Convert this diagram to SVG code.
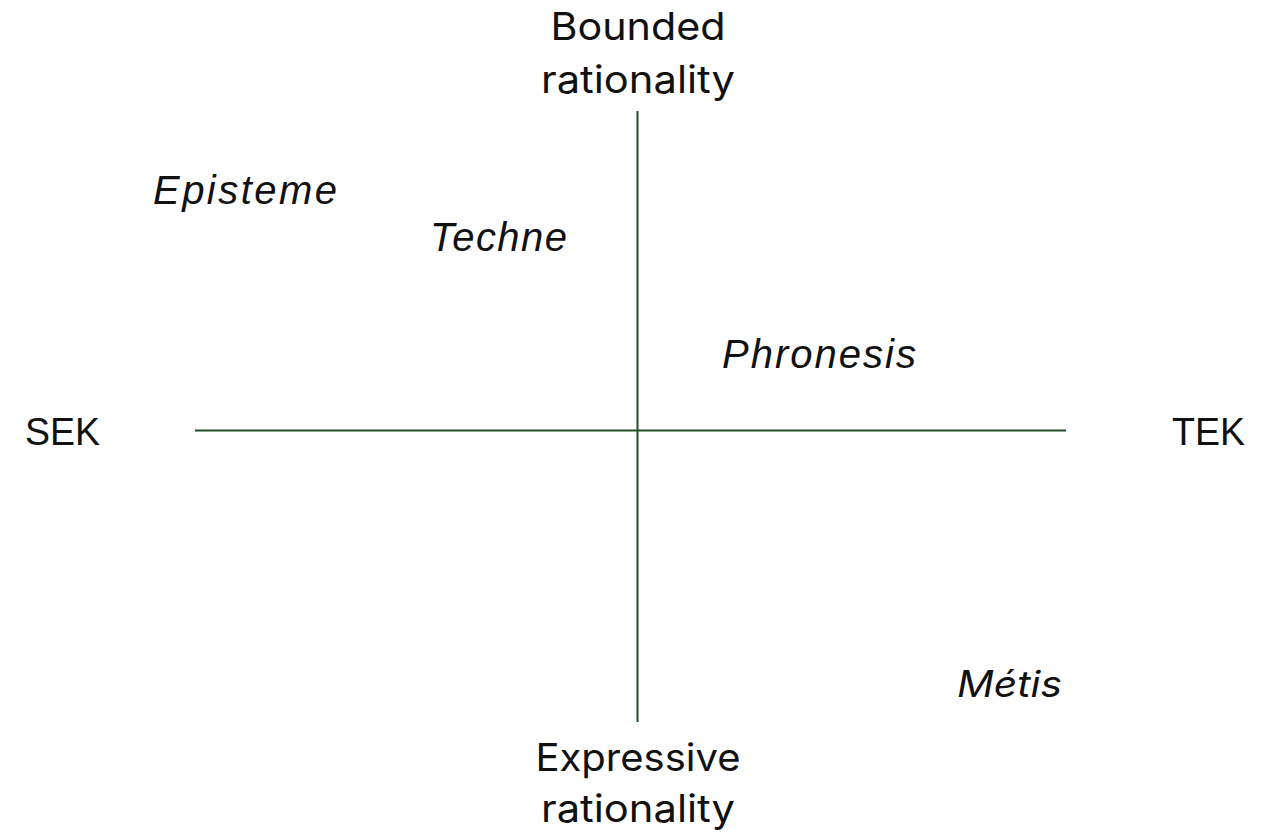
<svg xmlns="http://www.w3.org/2000/svg" width="1266" height="832" viewBox="0 0 1266 832">
  <style>
    .axis { stroke: #1e4f27; stroke-width: 2; fill: none; }
    .pole { font-family: "Inter", "Open Sans", "Liberation Sans", sans-serif; font-size: 38px; fill: #111; text-anchor: middle; }
    .side { font-family: "Liberation Sans", Arial, sans-serif; font-size: 38px; fill: #111; }
    .term { font-family: "Liberation Sans", Arial, sans-serif; font-size: 40px; font-style: italic; fill: #111; }
    .termb { font-family: "Inter", "Open Sans", "Liberation Sans", sans-serif; font-size: 37px; font-style: italic; fill: #111; }
  </style>
  <rect width="1266" height="832" fill="#ffffff"/>

  <g id="axes">
    <line class="axis" x1="637.5" y1="111" x2="637.5" y2="722"/>
    <line class="axis" x1="195" y1="430.5" x2="1066" y2="430.5"/>
  </g>

  <g id="pole-top">
    <text class="pole" x="638" y="40" textLength="175" lengthAdjust="spacingAndGlyphs">Bounded</text>
    <text class="pole" x="638" y="93" textLength="194" lengthAdjust="spacingAndGlyphs">rationality</text>
  </g>
  <g id="pole-bottom">
    <text class="pole" x="638" y="771" textLength="205" lengthAdjust="spacingAndGlyphs">Expressive</text>
    <text class="pole" x="638" y="822" textLength="194" lengthAdjust="spacingAndGlyphs">rationality</text>
  </g>
  <g id="pole-left">
    <text class="side" x="25" y="445" textLength="75" lengthAdjust="spacingAndGlyphs">SEK</text>
  </g>
  <g id="pole-right">
    <text class="side" x="1172" y="445" textLength="73" lengthAdjust="spacingAndGlyphs">TEK</text>
  </g>

  <g id="episteme">
    <text class="term" x="153" y="204" textLength="184" lengthAdjust="spacing">Episteme</text>
  </g>
  <g id="techne">
    <text class="term" x="430" y="251" textLength="137" lengthAdjust="spacing">Techne</text>
  </g>
  <g id="phronesis">
    <text class="term" x="722" y="368" textLength="194" lengthAdjust="spacing">Phronesis</text>
  </g>
  <g id="metis">
    <text class="termb" x="957" y="697" textLength="105" lengthAdjust="spacingAndGlyphs">Métis</text>
  </g>
</svg>
